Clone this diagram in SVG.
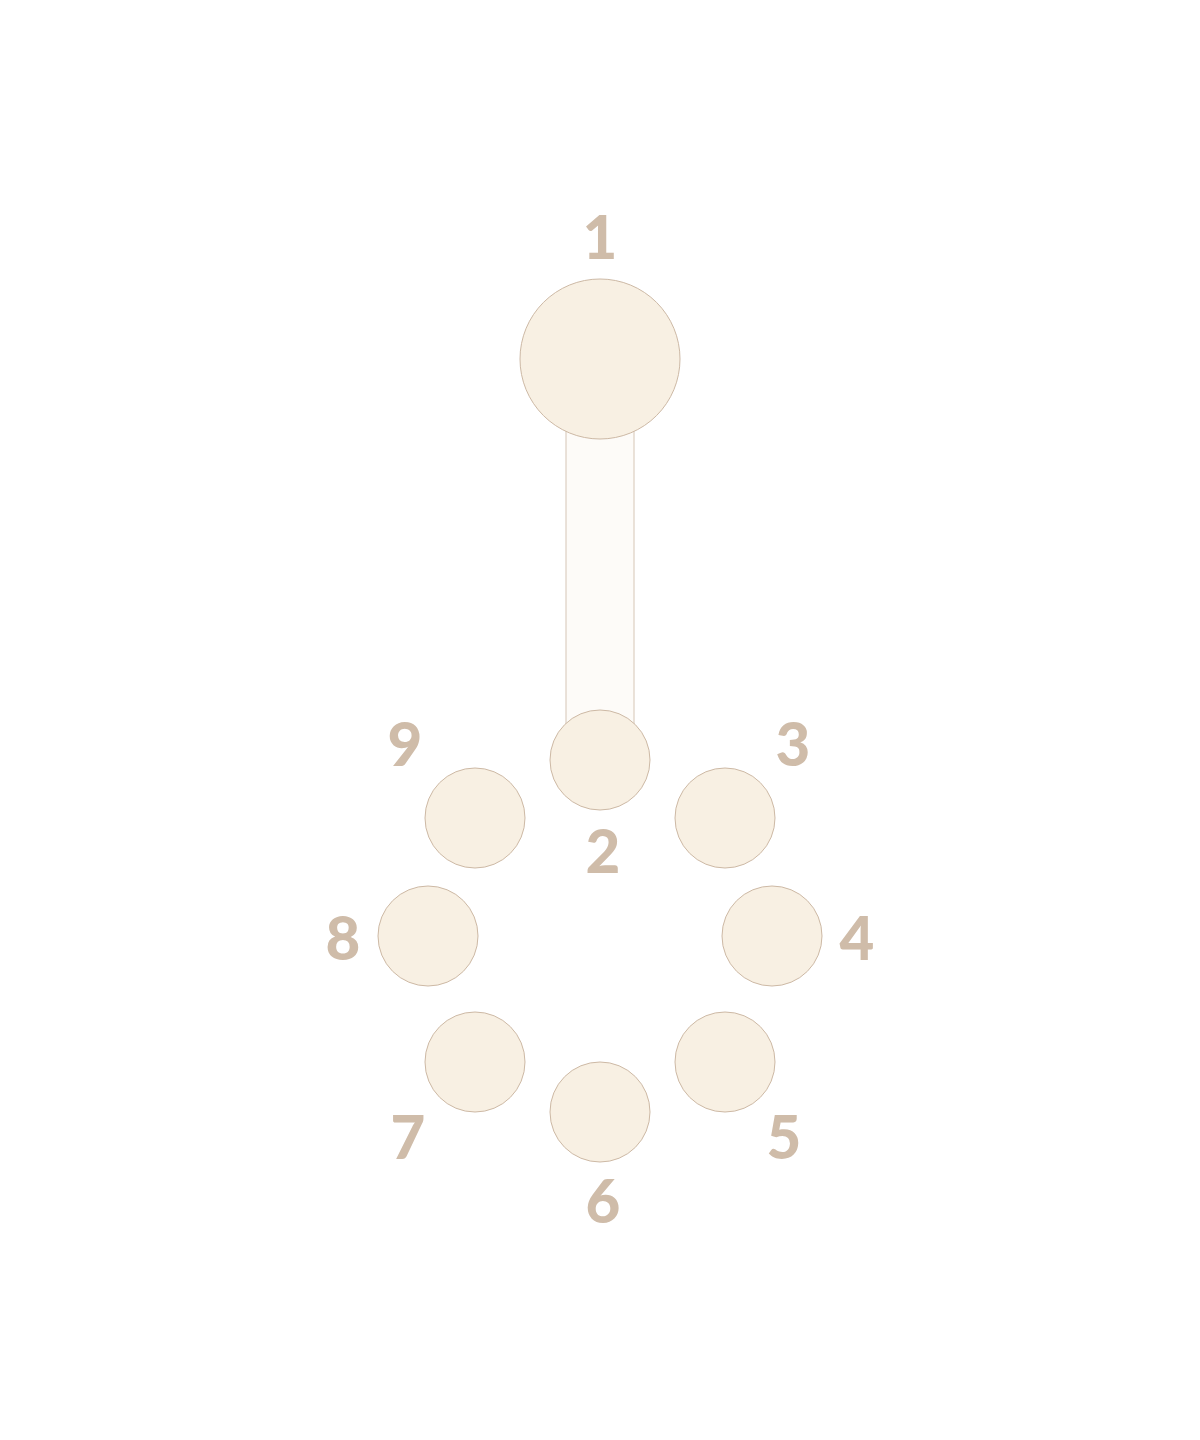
<svg xmlns="http://www.w3.org/2000/svg" width="1200" height="1440" viewBox="0 0 1200 1440">
<style>
.bg{fill:#ffffff}
.node{fill:#f8f0e3;stroke:#cdb9a5;stroke-width:1}
.bar{fill:#fdfbf8;stroke:#d6c6b6;stroke-width:1}
.lbl{font-family:Lato,"Liberation Sans",sans-serif;font-weight:900;font-size:60px;fill:#cfbca9;text-anchor:middle}
</style>
<rect class="bg" x="0" y="0" width="1200" height="1440"/>
<g id="connectors">
<rect class="bar" x="566" y="380" width="68" height="360"/>
</g>
<g id="n1"><circle class="node" cx="600" cy="359" r="80"/><text class="lbl" x="600" y="259">1</text></g>
<g id="n2"><circle class="node" cx="600" cy="760" r="50"/><text class="lbl" x="603" y="873">2</text></g>
<g id="n3"><circle class="node" cx="725" cy="818" r="50"/><text class="lbl" x="793" y="766">3</text></g>
<g id="n4"><circle class="node" cx="772" cy="936" r="50"/><text class="lbl" x="857" y="960">4</text></g>
<g id="n5"><circle class="node" cx="725" cy="1062" r="50"/><text class="lbl" x="784" y="1159">5</text></g>
<g id="n6"><circle class="node" cx="600" cy="1112" r="50"/><text class="lbl" x="603" y="1223">6</text></g>
<g id="n7"><circle class="node" cx="475" cy="1062" r="50"/><text class="lbl" x="408" y="1159">7</text></g>
<g id="n8"><circle class="node" cx="428" cy="936" r="50"/><text class="lbl" x="343" y="960">8</text></g>
<g id="n9"><circle class="node" cx="475" cy="818" r="50"/><text class="lbl" x="405" y="766">9</text></g>
</svg>
